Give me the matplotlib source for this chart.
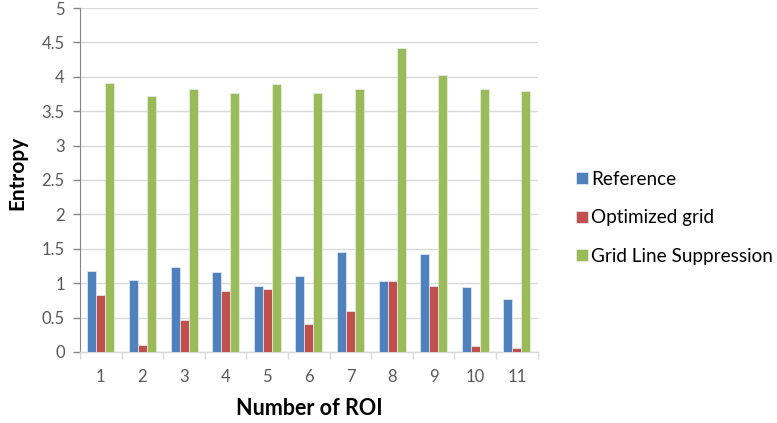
import matplotlib
matplotlib.use("Agg")
import matplotlib.pyplot as plt
import numpy as np

plt.rcParams['font.family'] = ['Lato', 'DejaVu Sans']

roi_labels = ['1', '2', '3', '4', '5', '6', '7', '8', '9', '10', '11']
reference = [1.18, 1.05, 1.24, 1.16, 0.96, 1.11, 1.46, 1.03, 1.43, 0.94, 0.77]
optimized_grid = [0.83, 0.10, 0.47, 0.88, 0.92, 0.40, 0.60, 1.03, 0.96, 0.08, 0.06]
grid_line_suppression = [3.91, 3.72, 3.83, 3.76, 3.89, 3.76, 3.83, 4.42, 4.02, 3.83, 3.80]

series = [
    ('Reference', reference, '#4F81BD'),
    ('Optimized grid', optimized_grid, '#C0504D'),
    ('Grid Line Suppression', grid_line_suppression, '#9BBB59'),
]

fig = plt.figure(figsize=(7.77, 4.23), dpi=100)
ax = fig.add_axes([0.103, 0.168, 0.589, 0.813])

x = np.arange(len(roi_labels))
width = 0.217
for i, (name, vals, color) in enumerate(series):
    ax.bar(x + (i - 1) * width, vals, width, color=color, label=name,
           edgecolor='#E8EEF6', linewidth=0.5, zorder=3)

ax.set_xlim(-0.5, len(roi_labels) - 0.5)
ax.set_ylim(0, 5)
ax.set_yticks(np.arange(0, 5.01, 0.5))
ax.set_yticklabels(['0', '0.5', '1', '1.5', '2', '2.5', '3', '3.5', '4', '4.5', '5'])
ax.yaxis.grid(True, color='#D9D9D9', linewidth=1.0, zorder=0)
ax.set_axisbelow(True)

ax.set_xticks(x)
ax.set_xticklabels(roi_labels)
ax.set_xticks(np.arange(-0.5, len(roi_labels), 1.0), minor=True)
ax.tick_params(axis='x', which='major', length=0, pad=12, labelsize=12, labelcolor='#595959')
ax.tick_params(axis='x', which='minor', length=5, color='#D9D9D9', width=1)
ax.tick_params(axis='y', length=5, color='#868686', width=1, labelsize=12,
               labelcolor='#595959', pad=6)

for s in ['top', 'right']:
    ax.spines[s].set_visible(False)
ax.spines['left'].set_color('#868686')
ax.spines['bottom'].set_color('#D9D9D9')
ax.spines['bottom'].set_linewidth(1.0)

ax.set_ylabel('Entropy', fontsize=15, fontweight='bold')
ax.yaxis.set_label_coords(-0.115, 0.52)
ax.set_xlabel('Number of ROI', fontsize=15.5, fontweight='bold', labelpad=10)

ax.legend(loc='center left', bbox_to_anchor=(0.732, 0.485), bbox_transform=fig.transFigure,
          frameon=False, fontsize=13.6, handlelength=0.6, handleheight=0.6,
          handletextpad=0.2, labelspacing=1.15, borderaxespad=0.0)

fig.savefig('out.png', dpi=100)
